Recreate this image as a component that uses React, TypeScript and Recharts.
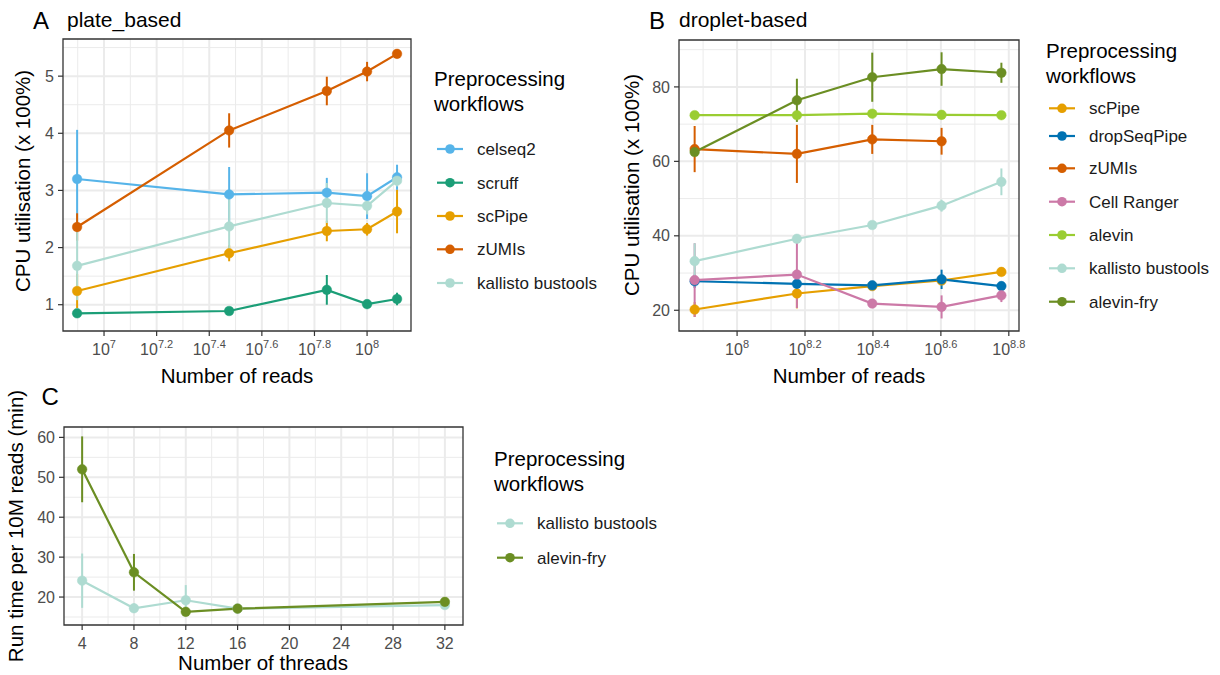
import React from "react";
import {
  LineChart,
  Line,
  XAxis,
  YAxis,
  ErrorBar,
  ReferenceLine,
  ReferenceArea,
} from "recharts";

const FONT = "'Liberation Sans', Arimo, Arial, Helvetica, sans-serif";
const TICK_GREY = "#4d4d4d";
const BORDER = "#333333";
const GRID = "#ebebeb";

// ---------- A: plate-based protocols ----------
const plateReads = [7.9e6, 2.99e7, 7.03e7, 1.0e8, 1.3e8];
const plateCelseq2 = [3.2, 2.93, 2.96, 2.9, 3.23];
const plateCelseq2Sd = [0.86, 0.48, 0.26, 0.4, 0.22];
const plateScruff = [0.85, 0.89, 1.26, 1.01, 1.1];
const plateScruffSd = [0.03, 0.03, 0.26, 0.06, 0.11];
const plateScPipe = [1.24, 1.9, 2.29, 2.32, 2.63];
const plateScPipeSd = [0.3, 0.14, 0.18, 0.11, 0.38];
const plateZumis = [2.36, 4.05, 4.74, 5.08, 5.39];
const plateZumisSd = [0.24, 0.3, 0.25, 0.17, 0.02];
const plateKallisto = [1.68, 2.37, 2.78, 2.73, 3.17];
const plateKallistoSd = [0.6, 0.55, 0.35, 0.15, 0.1];

// ---------- B: droplet-based protocols ----------
const dropletReads = [7.5e7, 1.5e8, 2.5e8, 4.0e8, 6.0e8];
const dropScPipe = [20.2, 24.5, 26.5, 28.0, 30.3];
const dropScPipeSd = [2.0, 4.0, 0.5, 0.8, 0.6];
const dropDropSeqPipe = [27.8, 27.1, 26.7, 28.3, 26.5];
const dropDropSeqPipeSd = [1.8, 0.5, 0.4, 2.6, 1.2];
const dropZumis = [63.3, 62.0, 65.9, 65.4];
const dropZumisSd = [6.2, 7.8, 3.9, 3.6];
const dropCellRanger = [28.1, 29.6, 21.8, 20.9, 24.0];
const dropCellRangerSd = [9.9, 9.0, 1.2, 3.1, 1.8];
const dropAlevin = [72.4, 72.4, 72.8, 72.5, 72.4];
const dropAlevinSd = [0.3, 0.3, 0.3, 0.3, 0.3];
const dropKallisto = [33.2, 39.2, 42.9, 48.1, 54.5];
const dropKallistoSd = [4.8, 0.6, 0.5, 1.6, 3.6];
const dropAlevinFry = [62.5, 76.4, 82.6, 84.8, 83.8];
const dropAlevinFrySd = [0.5, 5.8, 6.6, 4.5, 2.7];

// ---------- C: run time vs threads ----------
const threads = [4, 8, 12, 16, 32];
const runKallisto = [24.1, 17.2, 19.2, 17.1, 18.0];
const runKallistoSd = [6.8, 1.2, 3.8, 0.4, 0.6];
const runAlevinFry = [52.0, 26.2, 16.3, 17.1, 18.8];
const runAlevinFrySd = [8.25, 4.6, 0.6, 0.5, 0.5];

// ---------- axis ticks and grid values ----------
const plateTickExps = [7, 7.2, 7.4, 7.6, 7.8, 8];
const plateMinorExps = [6.9, 7.1, 7.3, 7.5, 7.7, 7.9, 8.1];
const plateYTicks = [1, 2, 3, 4, 5];
const plateYMinor = [1.5, 2.5, 3.5, 4.5, 5.5];
const plateXDomainExp = [6.844, 8.167];
const plateYDomain = [0.54, 5.65];

const dropTickExps = [8, 8.2, 8.4, 8.6, 8.8];
const dropMinorExps = [7.9, 8.1, 8.3, 8.5, 8.7];
const dropYTicks = [20, 40, 60, 80];
const dropYMinor = [30, 50, 70, 90];
const dropXDomainExp = [7.829, 8.83];
const dropYDomain = [14.43, 92.6];

const threadTicks = [4, 8, 12, 16, 20, 24, 28, 32];
const threadMinor = [6, 10, 14, 18, 22, 26, 30];
const runYTicks = [20, 30, 40, 50, 60];
const runYMinor = [15, 25, 35, 45, 55];
const threadDomain = [2.6, 33.4];
const runYDomain = [13.0, 62.6];

// workflow colours
const C_CELSEQ2 = "#56B4E9";
const C_SCRUFF = "#1B9E77";
const C_SCPIPE = "#E69F00";
const C_ZUMIS = "#D55E00";
const C_KALLISTO = "#AEDBD1";
const C_DROPSEQ = "#0072B2";
const C_CELLRANGER = "#CC79A7";
const C_ALEVIN = "#9ACD32";
const C_ALEVINFRY = "#6B8E23";

type Series = { name: string; color: string; mean: number[]; sd: number[] };

const plateSeries: Series[] = [
  { name: "celseq2", color: C_CELSEQ2, mean: plateCelseq2, sd: plateCelseq2Sd },
  { name: "scruff", color: C_SCRUFF, mean: plateScruff, sd: plateScruffSd },
  { name: "scPipe", color: C_SCPIPE, mean: plateScPipe, sd: plateScPipeSd },
  { name: "zUMIs", color: C_ZUMIS, mean: plateZumis, sd: plateZumisSd },
  { name: "kallisto bustools", color: C_KALLISTO, mean: plateKallisto, sd: plateKallistoSd },
];

const dropletSeries: Series[] = [
  { name: "scPipe", color: C_SCPIPE, mean: dropScPipe, sd: dropScPipeSd },
  { name: "dropSeqPipe", color: C_DROPSEQ, mean: dropDropSeqPipe, sd: dropDropSeqPipeSd },
  { name: "zUMIs", color: C_ZUMIS, mean: dropZumis, sd: dropZumisSd },
  { name: "Cell Ranger", color: C_CELLRANGER, mean: dropCellRanger, sd: dropCellRangerSd },
  { name: "alevin", color: C_ALEVIN, mean: dropAlevin, sd: dropAlevinSd },
  { name: "kallisto bustools", color: C_KALLISTO, mean: dropKallisto, sd: dropKallistoSd },
  { name: "alevin-fry", color: C_ALEVINFRY, mean: dropAlevinFry, sd: dropAlevinFrySd },
];

const threadSeries: Series[] = [
  { name: "kallisto bustools", color: C_KALLISTO, mean: runKallisto, sd: runKallistoSd },
  { name: "alevin-fry", color: C_ALEVINFRY, mean: runAlevinFry, sd: runAlevinFrySd },
];

const pow10 = (e: number) => Math.pow(10, e);

function seriesRows(xs: number[], s: Series) {
  return s.mean.map((y, i) => ({ x: xs[i], y, sd: s.sd[i] }));
}

function YTick(props: any) {
  const { x, y, payload } = props;
  return (
    <text x={x} y={y} dy="0.35em" textAnchor="end" fontSize={16} fill={TICK_GREY} fontFamily={FONT}>
      {payload.value}
    </text>
  );
}

function XTick(props: any) {
  const { x, y, payload } = props;
  return (
    <text x={x} y={y + 14.5} textAnchor="middle" fontSize={16} fill={TICK_GREY} fontFamily={FONT}>
      {payload.value}
    </text>
  );
}

function PowerTick(props: any) {
  const { x, y, payload } = props;
  const exp = Math.round(Math.log10(payload.value) * 10) / 10;
  return (
    <text x={x} y={y + 14.5} textAnchor="middle" fontSize={16} fill={TICK_GREY} fontFamily={FONT}>
      <tspan>10</tspan>
      <tspan dy={-7} fontSize={11}>
        {String(exp)}
      </tspan>
    </text>
  );
}

type PanelProps = {
  left: number;
  top: number;
  width: number;
  height: number;
  plotLeft: number;
  plotTop: number;
  plotRight: number;
  plotBottom: number;
  xs: number[];
  series: Series[];
  xDomain: number[];
  yDomain: number[];
  xTicks: number[];
  xMinor: number[];
  yTicks: number[];
  yMinor: number[];
  logX: boolean;
};

function Panel(p: PanelProps) {
  const margin = {
    top: p.plotTop - p.top,
    right: p.left + p.width - p.plotRight,
    left: 0,
    bottom: 0,
  };
  const yAxisWidth = p.plotLeft - p.left;
  const xAxisHeight = p.top + p.height - p.plotBottom;
  return (
    <div style={{ position: "absolute", left: p.left, top: p.top }}>
      <LineChart width={p.width} height={p.height} margin={margin}>
        <XAxis
          dataKey="x"
          type="number"
          scale={p.logX ? "log" : "linear"}
          domain={p.xDomain}
          allowDataOverflow
          ticks={p.xTicks}
          interval={0}
          height={xAxisHeight}
          axisLine={false}
          tickLine={{ stroke: BORDER, strokeWidth: 1.2 }}
          tickSize={5}
          tickMargin={4}
          tick={p.logX ? <PowerTick /> : <XTick />}
        />
        <YAxis
          type="number"
          domain={p.yDomain}
          allowDataOverflow
          ticks={p.yTicks}
          interval={0}
          width={yAxisWidth}
          axisLine={false}
          tickLine={{ stroke: BORDER, strokeWidth: 1.2 }}
          tickSize={5}
          tickMargin={4}
          tick={<YTick />}
        />
        {p.xMinor.map((v) => (
          <ReferenceLine key={"xm" + v} x={v} stroke={GRID} strokeWidth={1} zIndex={-100} />
        ))}
        {p.yMinor.map((v) => (
          <ReferenceLine key={"ym" + v} y={v} stroke={GRID} strokeWidth={1} zIndex={-100} />
        ))}
        {p.xTicks.map((v) => (
          <ReferenceLine key={"xM" + v} x={v} stroke={GRID} strokeWidth={2} zIndex={-90} />
        ))}
        {p.yTicks.map((v) => (
          <ReferenceLine key={"yM" + v} y={v} stroke={GRID} strokeWidth={2} zIndex={-90} />
        ))}
        {p.series.map((s) => (
          <Line
            key={s.name}
            name={s.name}
            data={seriesRows(p.xs, s)}
            dataKey="y"
            type="linear"
            stroke={s.color}
            strokeWidth={2.2}
            dot={{ r: 4.8, fill: s.color, stroke: s.color, strokeWidth: 0.5 }}
            activeDot={false}
            isAnimationActive={false}
          >
            <ErrorBar dataKey="sd" direction="y" width={0} strokeWidth={2} stroke={s.color} />
          </Line>
        ))}
        <ReferenceArea
          x1={p.xDomain[0]}
          x2={p.xDomain[1]}
          y1={p.yDomain[0]}
          y2={p.yDomain[1]}
          fill="none"
          fillOpacity={0}
          stroke={BORDER}
          strokeWidth={1.3}
          ifOverflow="visible"
          zIndex={1500}
        />
      </LineChart>
    </div>
  );
}

function LegendBlock({
  x,
  titleY,
  keyYs,
  series,
}: {
  x: number;
  titleY: number;
  keyYs: number[];
  series: Series[];
}) {
  return (
    <g fontFamily={FONT}>
      <text x={x} y={titleY} fontSize={20.5} fill="#000">
        Preprocessing
      </text>
      <text x={x} y={titleY + 25} fontSize={20.5} fill="#000">
        workflows
      </text>
      {series.map((s, i) => (
        <g key={s.name}>
          <line x1={x + 3} x2={x + 29} y1={keyYs[i]} y2={keyYs[i]} stroke={s.color} strokeWidth={2.2} />
          <circle cx={x + 16} cy={keyYs[i]} r={4.8} fill={s.color} />
          <text x={x + 43} y={keyYs[i]} dy="0.35em" fontSize={17} fill="#1a1a1a">
            {s.name}
          </text>
        </g>
      ))}
    </g>
  );
}

export default function App() {
  return (
    <div
      style={{
        position: "absolute",
        left: 0,
        top: 0,
        width: 1220,
        height: 675,
        background: "#ffffff",
        overflow: "hidden",
      }}
    >
      <Panel
        left={0}
        top={0}
        width={430}
        height={400}
        plotLeft={63}
        plotTop={39}
        plotRight={411}
        plotBottom={331}
        xs={plateReads}
        series={plateSeries}
        xDomain={plateXDomainExp.map(pow10)}
        yDomain={plateYDomain}
        xTicks={plateTickExps.map(pow10)}
        xMinor={plateMinorExps.map(pow10)}
        yTicks={plateYTicks}
        yMinor={plateYMinor}
        logX
      />
      <Panel
        left={600}
        top={0}
        width={430}
        height={400}
        plotLeft={679}
        plotTop={40}
        plotRight={1019}
        plotBottom={331}
        xs={dropletReads}
        series={dropletSeries}
        xDomain={dropXDomainExp.map(pow10)}
        yDomain={dropYDomain}
        xTicks={dropTickExps.map(pow10)}
        xMinor={dropMinorExps.map(pow10)}
        yTicks={dropYTicks}
        yMinor={dropYMinor}
        logX
      />
      <Panel
        left={0}
        top={400}
        width={480}
        height={275}
        plotLeft={64}
        plotTop={427}
        plotRight={463}
        plotBottom={625}
        xs={threads}
        series={threadSeries}
        xDomain={threadDomain}
        yDomain={runYDomain}
        xTicks={threadTicks}
        xMinor={threadMinor}
        yTicks={runYTicks}
        yMinor={runYMinor}
        logX={false}
      />
      <svg
        width={1220}
        height={675}
        style={{ position: "absolute", left: 0, top: 0, pointerEvents: "none" }}
        fontFamily={FONT}
      >
        {/* panel tags and titles */}
        <text x={33} y={29} fontSize={24} fill="#000">A</text>
        <text x={67} y={27} fontSize={21} fill="#000">plate_based</text>
        <text x={649} y={29} fontSize={24} fill="#000">B</text>
        <text x={679} y={27} fontSize={21} fill="#000">droplet-based</text>
        <text x={41.5} y={405} fontSize={24} fill="#000">C</text>

        {/* axis titles */}
        <text transform="translate(30,181) rotate(-90)" textAnchor="middle" fontSize={20.5} fill="#000">
          CPU utilisation (x 100%)
        </text>
        <text transform="translate(639,185) rotate(-90)" textAnchor="middle" fontSize={20.5} fill="#000">
          CPU utilisation (x 100%)
        </text>
        <text transform="translate(23,526) rotate(-90)" textAnchor="middle" fontSize={20.5} fill="#000">
          Run time per 10M reads (min)
        </text>
        <text x={237} y={383} textAnchor="middle" fontSize={20.5} fill="#000">
          Number of reads
        </text>
        <text x={849} y={383} textAnchor="middle" fontSize={20.5} fill="#000">
          Number of reads
        </text>
        <text x={263} y={670} textAnchor="middle" fontSize={20.5} fill="#000">
          Number of threads
        </text>

        <LegendBlock x={434} titleY={86} keyYs={[149, 182.7, 216, 249.3, 283]} series={plateSeries} />
        <LegendBlock
          x={1046}
          titleY={58}
          keyYs={[108.3, 136, 168.3, 201.7, 235, 268.3, 301.7]}
          series={dropletSeries}
        />
        <LegendBlock x={494} titleY={466} keyYs={[523.3, 557.7]} series={threadSeries} />
      </svg>
    </div>
  );
}
